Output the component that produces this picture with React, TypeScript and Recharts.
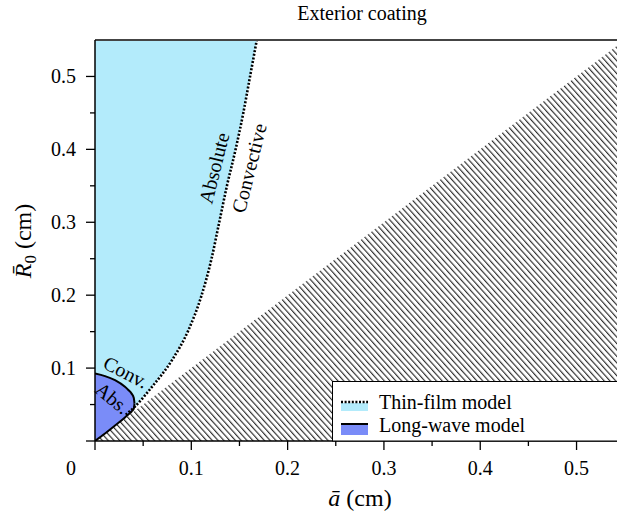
import React from "react";
import { ComposedChart, Area, Line, XAxis, YAxis, ReferenceLine } from "recharts";

// ---- data ----
const X_TICKS = [0, 0.05, 0.1, 0.15, 0.2, 0.25, 0.3, 0.35, 0.4, 0.45, 0.5];
const Y_TICKS = [0, 0.05, 0.1, 0.15, 0.2, 0.25, 0.3, 0.35, 0.4, 0.45, 0.5];
const X_MAX = 0.542;
const Y_MAX = 0.55;

// Thin-film absolute/convective boundary (dotted)
const thinFilmX = [0.032, 0.042, 0.059, 0.08, 0.097, 0.11, 0.121, 0.129, 0.137, 0.146, 0.154, 0.161, 0.168];
const thinFilmY = [0.036, 0.048, 0.074, 0.111, 0.152, 0.197, 0.25, 0.3, 0.35, 0.4, 0.45, 0.5, 0.55];

// Long-wave absolute region (x, lower, upper)
const longWaveX = [0, 0.0104, 0.0208, 0.0311, 0.0346, 0.038, 0.0403, 0.041];
const longWaveLow = [0, 0.0102, 0.0212, 0.0322, 0.0365, 0.0405, 0.0445, 0.0515];
const longWaveHigh = [0.0926, 0.089, 0.0834, 0.0743, 0.07, 0.065, 0.059, 0.0515];

// Excluded region R0 < a (hatched)
const hatchX = [0, X_MAX];

// ---- derived tables ----
const dottedData = thinFilmX.map((x, i) => ({ x, y: thinFilmY[i] }));
const thinFilmArea = [
  { x: 0, r: [0, Y_MAX] },
  ...thinFilmX.map((x, i) => ({ x, r: [thinFilmY[i], Y_MAX] })),
];
const longWaveArea = longWaveX.map((x, i) => ({ x, r: [longWaveLow[i], longWaveHigh[i]] }));
const hatchArea = hatchX.map((x) => ({ x, r: [0, x] }));

const FONT = "'Liberation Serif', 'Times New Roman', serif";
const CYAN = "#b3ebfb";
const BLUE = "#7a8cf8";

const isMajor = (v: number) => Math.abs(v * 10 - Math.round(v * 10)) < 1e-6;

const XTick = (props: any) => {
  const { x, y, payload } = props;
  const v = payload.value as number;
  const major = isMajor(v);
  return (
    <g>
      <line x1={x} y1={y} x2={x} y2={y + (major ? 9 : 5)} stroke="#000" strokeWidth={1.3} />
      {major && (
        <text
          x={v === 0 ? x - 24 : x}
          y={y + 34}
          textAnchor="middle"
          fontSize={20}
          fontFamily={FONT}
          fill="#000"
        >
          {v === 0 ? "0" : v.toFixed(1)}
        </text>
      )}
    </g>
  );
};

const YTick = (props: any) => {
  const { x, y, payload } = props;
  const v = payload.value as number;
  const major = isMajor(v);
  return (
    <g>
      <line x1={x} y1={y} x2={x - (major ? 9 : 5)} y2={y} stroke="#000" strokeWidth={1.3} />
      {major && v !== 0 && (
        <text x={x - 19} y={y + 6.7} textAnchor="end" fontSize={20} fontFamily={FONT} fill="#000">
          {v.toFixed(1)}
        </text>
      )}
    </g>
  );
};

export default function App() {
  return (
    <div style={{ position: "absolute", left: 0, top: 0, width: 617, height: 513, background: "#fff" }}>
      <ComposedChart width={617} height={513} margin={{ top: 40, right: 0, bottom: 0, left: 0 }}>
        <defs>
          <pattern id="hatch" patternUnits="userSpaceOnUse" width={4.3} height={10} patternTransform="rotate(-42)">
            <line x1={0.6} y1={-2} x2={0.6} y2={12} stroke="#222" strokeWidth={1.1} />
          </pattern>
        </defs>
        <XAxis
          type="number"
          dataKey="x"
          domain={[0, X_MAX]}
          allowDataOverflow
          ticks={X_TICKS}
          interval={0}
          tick={<XTick />}
          tickLine={false}
          tickSize={0}
          tickMargin={0}
          height={72}
          axisLine={{ stroke: "#000", strokeWidth: 1.5 }}
        />
        <YAxis
          type="number"
          domain={[0, Y_MAX]}
          allowDataOverflow
          ticks={Y_TICKS}
          interval={0}
          tick={<YTick />}
          tickLine={false}
          tickSize={0}
          tickMargin={0}
          width={95}
          axisLine={{ stroke: "#000", strokeWidth: 1.5 }}
        />
        <Area
          data={hatchArea}
          dataKey="r"
          type="linear"
          fill="url(#hatch)"
          fillOpacity={1}
          stroke="none"
          isAnimationActive={false}
          activeDot={false}
        />
        <Area
          data={thinFilmArea}
          dataKey="r"
          type="linear"
          fill={CYAN}
          fillOpacity={1}
          stroke="none"
          isAnimationActive={false}
          activeDot={false}
        />
        <Area
          data={longWaveArea}
          dataKey="r"
          type="monotone"
          fill={BLUE}
          fillOpacity={1}
          stroke="#000"
          strokeWidth={2}
          isAnimationActive={false}
          activeDot={false}
        />
        <Line
          data={dottedData}
          dataKey="y"
          type="monotone"
          stroke="#000"
          strokeWidth={2.6}
          strokeDasharray="2 1.7"
          dot={false}
          activeDot={false}
          isAnimationActive={false}
        />
        <ReferenceLine y={Y_MAX} stroke="#444" strokeWidth={2} />
      </ComposedChart>
      <svg
        width={617}
        height={513}
        style={{ position: "absolute", left: 0, top: 0, pointerEvents: "none" }}
        fontFamily={FONT}
      >
        <text x={362} y={20} textAnchor="middle" fontSize={20} fill="#000">
          Exterior coating
        </text>
        <text x={360} y={506} textAnchor="middle" fontSize={24} fill="#000">
          <tspan fontStyle="italic">{"a\u0304"}</tspan>
          <tspan> (cm)</tspan>
        </text>
        <text transform="translate(31,241) rotate(-90)" textAnchor="middle" fontSize={24} fill="#000">
          <tspan fontStyle="italic">{"R\u0304"}</tspan>
          <tspan fontSize={17} dy={5}>0</tspan>
          <tspan dy={-5}> (cm)</tspan>
        </text>
        <text transform="translate(214,168) rotate(-76)" textAnchor="middle" dominantBaseline="central" fontSize={20} fill="#000">
          Absolute
        </text>
        <text transform="translate(249,168) rotate(-76)" textAnchor="middle" dominantBaseline="central" fontSize={20} fill="#000">
          Convective
        </text>
        <text transform="translate(126,372) rotate(27)" textAnchor="middle" dominantBaseline="central" fontSize={20} fill="#000">
          Conv.
        </text>
        <text transform="translate(112.5,398) rotate(40)" textAnchor="middle" dominantBaseline="central" fontSize={20} fill="#000">
          Abs.
        </text>
        <rect x={332.5} y={381.5} width={300} height={59.5} fill="#fff" stroke="#000" strokeWidth={1} />
        <rect x={341} y={403} width={27} height={8} fill={CYAN} />
        <line x1={341} y1={402} x2={368} y2={402} stroke="#000" strokeWidth={2.5} strokeDasharray="2 1.6" />
        <text x={379} y={408.5} fontSize={20} fill="#000">
          Thin-film model
        </text>
        <rect x={341} y={425} width={27} height={10} fill={BLUE} />
        <line x1={341} y1={424} x2={368} y2={424} stroke="#000" strokeWidth={2} />
        <text x={379} y={431.5} fontSize={20} fill="#000">
          Long-wave model
        </text>
      </svg>
    </div>
  );
}
